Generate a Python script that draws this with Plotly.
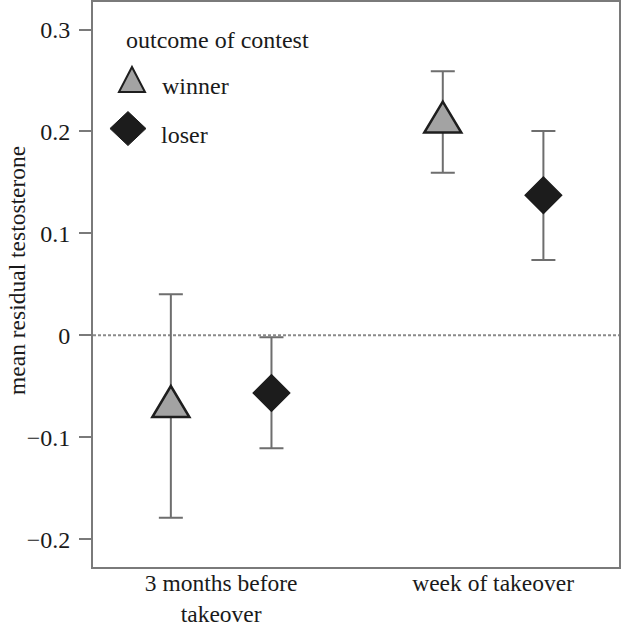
import plotly.graph_objects as go

# ---- data ----
periods = ["3 months before<br>takeover", "week of takeover"]
period_pos = [1, 2]
outcomes = ["winner", "loser"]
offsets = {"winner": -0.185, "loser": 0.185}
means = {"winner": [-0.070, 0.209], "loser": [-0.0565, 0.1374]}
upper = {"winner": [0.0403, 0.259], "loser": [-0.0019, 0.2005]}
lower = {"winner": [-0.1788, 0.1596], "loser": [-0.1107, 0.0740]}
y_ticks = [-0.2, -0.1, 0, 0.1, 0.2, 0.3]

# ---- style ----
FONT = "Liberation Serif"
TXT = "#1a1a1a"
AX = "#7a7a7a"
ERR = "#6e6e6e"
FS = 24
TRI_FILL, TRI_LINE = "#a3a3a3", "#1e1e1e"
DIA_FILL = "#1c1c1c"
TRI_PATH = "M -18.5,-10.3 L 18.5,-10.3 L 0,20.7 Z"      # marker glyph (pixels)

fig = go.Figure()
for o in outcomes:
    xs = [p + offsets[o] for p in period_pos]
    m = means[o]
    if o == "winner":
        marker = dict(symbol="triangle-up", size=1, opacity=0, color=TRI_FILL)
    else:
        marker = dict(symbol="diamond", size=28, color=DIA_FILL,
                      line=dict(color=DIA_FILL, width=1.5))
    fig.add_trace(go.Scatter(
        x=xs, y=m, mode="markers", name=o, showlegend=False, marker=marker,
        error_y=dict(type="data", symmetric=False,
                     array=[u - v for u, v in zip(upper[o], m)],
                     arrayminus=[v - l for v, l in zip(m, lower[o])],
                     color=ERR, thickness=2, width=12),
    ))
    if o == "winner":
        # triangle glyphs anchored at the data points through the axes
        for x, y in zip(xs, m):
            fig.add_shape(type="path", xref="x", yref="y",
                          xsizemode="pixel", ysizemode="pixel", xanchor=x, yanchor=y,
                          path=TRI_PATH, fillcolor=TRI_FILL,
                          line=dict(color=TRI_LINE, width=2.5), layer="above")

fig.add_shape(type="line", xref="paper", x0=0, x1=1, yref="y", y0=0, y1=0,
              line=dict(color="#8a8a8a", width=2, dash="3px,2px"), layer="below")

# custom legend
fig.add_annotation(text="outcome of contest", xref="paper", yref="paper",
                   x=0.0589, y=0.932, xanchor="left", yanchor="middle",
                   showarrow=False, font=dict(family=FONT, size=FS, color=TXT))
fig.add_annotation(text="winner", xref="paper", yref="paper",
                   x=0.127, y=0.852, xanchor="left", yanchor="middle",
                   showarrow=False, font=dict(family=FONT, size=FS, color=TXT))
fig.add_annotation(text="loser", xref="paper", yref="paper",
                   x=0.126, y=0.765, xanchor="left", yanchor="middle",
                   showarrow=False, font=dict(family=FONT, size=FS, color=TXT))
fig.add_shape(type="path", xref="paper", yref="paper",
              xsizemode="pixel", ysizemode="pixel", xanchor=0.0741, yanchor=0.862,
              path="M -13,-12 L 13,-12 L 0,13 Z",
              fillcolor=TRI_FILL, line=dict(color=TRI_LINE, width=2))
fig.add_shape(type="path", xref="paper", yref="paper",
              xsizemode="pixel", ysizemode="pixel", xanchor=0.0665, yanchor=0.776,
              path="M -18,0 L 0,17 L 18,0 L 0,-17 Z",
              fillcolor=DIA_FILL, line=dict(color=DIA_FILL, width=1))

fig.add_annotation(text="mean residual testosterone", xref="paper", yref="paper",
                   x=-0.1445, y=0.5257, xanchor="center", yanchor="middle",
                   textangle=-90, showarrow=False,
                   font=dict(family=FONT, size=23.5, color=TXT))

fig.update_layout(
    template="none",
    width=622, height=627,
    margin=dict(l=93, r=3, t=2, b=60, autoexpand=False),
    paper_bgcolor="white", plot_bgcolor="white",
    font=dict(family=FONT, size=FS, color=TXT),
    showlegend=False,
)
fig.update_xaxes(
    range=[0.5287, 2.463], tickvals=period_pos, ticktext=periods,
    ticklabelstandoff=-6,
    showgrid=False, zeroline=False, showline=True, mirror=True, automargin=False,
    linecolor=AX, linewidth=2, ticks="", tickfont=dict(family=FONT, size=23.5, color=TXT),
)
fig.update_yaxes(
    range=[-0.2272, 0.327], tickvals=y_ticks, ticklabelstandoff=4,
    showgrid=False, zeroline=False, showline=True, mirror=True, automargin=False,
    linecolor=AX, linewidth=2, ticks="outside", ticklen=12, tickwidth=2,
    tickcolor=AX, tickfont=dict(family=FONT, size=FS, color=TXT),
)

fig.write_html("out.html", config={"displayModeBar": False},
               post_script="document.body.style.margin='0';document.body.style.overflow='hidden';")
